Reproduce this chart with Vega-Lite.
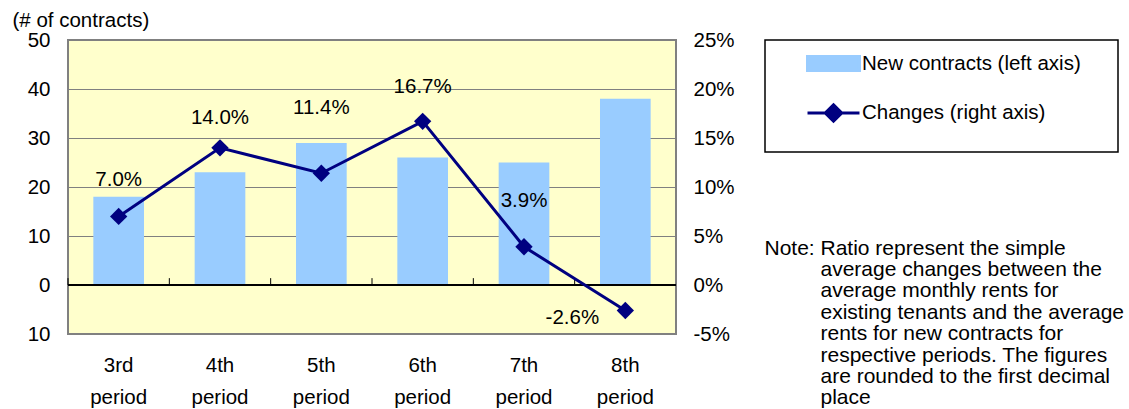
{
  "$schema": "https://vega.github.io/schema/vega-lite/v6.json",
  "width": 608,
  "height": 294,
  "autosize": {"type": "none"},
  "padding": {"left": 68, "top": 40, "right": 453, "bottom": 75},
  "background": "white",
  "config": {
    "font": "Liberation Sans",
    "view": {"fill": "#FFFFCC", "stroke": "#808080", "strokeWidth": 2},
    "axis": {"labelFont": "Liberation Sans", "labelColor": "black", "titleFont": "Liberation Sans", "titleColor": "black", "titleFontWeight": "normal"},
    "text": {"font": "Liberation Sans"}
  },
  "title": {"text": "the new contracts", "anchor": "start", "frame": "group", "fontSize": 26.5, "fontWeight": "bold", "font": "Liberation Sans", "color": "black", "baseline": "alphabetic", "offset": 34, "dx": -31},
  "data": {"values": [
    {"period": "3rd period", "contracts": 18, "change": 7.0},
    {"period": "4th period", "contracts": 23, "change": 14.0},
    {"period": "5th period", "contracts": 29, "change": 11.4},
    {"period": "6th period", "contracts": 26, "change": 16.7},
    {"period": "7th period", "contracts": 25, "change": 3.9},
    {"period": "8th period", "contracts": 38, "change": -2.6}
  ]},
  "transform": [
    {"calculate": "(datum.change < 0 ? '-' : '') + format(abs(datum.change), '.1f') + '%'", "as": "label"}
  ],
  "layer": [
    {
      "layer": [
        {
          "mark": {"type": "bar"},
          "encoding": {
            "x": {"field": "period", "type": "nominal", "sort": null,
              "scale": {"paddingInner": 0.5, "paddingOuter": 0.25},
              "axis": {"domain": false, "ticks": false, "labelExpr": "split(datum.label, ' ')", "labelFontSize": 20.5, "labelLineHeight": 32, "labelPadding": 21, "labelAngle": 0,
                "title": "Note:", "titleX": 696, "titleY": -80, "titleAlign": "left", "titleBaseline": "alphabetic", "titleFontSize": 21, "titleAngle": 0}},
            "y": {"field": "contracts", "type": "quantitative",
              "scale": {"domain": [-10, 50], "nice": false},
              "axis": {"values": [-10, 0, 10, 20, 30, 40, 50], "labelExpr": "'' + abs(datum.value)", "domain": false, "ticks": false, "tickSize": 0, "grid": true, "gridColor": "#808080", "gridWidth": 1, "labelPadding": 18, "labelFontSize": 20.5,
                "title": "(# of contracts)", "titleX": -56, "titleY": -20, "titleAngle": 0, "titleAlign": "left", "titleBaseline": "middle", "titleFontSize": 20.5}},
            "color": {"datum": "New contracts (left axis)",
              "scale": {"domain": ["New contracts (left axis)", "Changes (right axis)"], "range": ["#99CCFF", "#000080"]},
              "legend": {"orient": "none", "legendX": 697, "legendY": 0, "direction": "vertical",
                "title": "\u200b\u00a0\u00a0\u00a0\u00a0\u00a0\u00a0\u00a0\u00a0\u00a0\u00a0\u00a0\u00a0\u00a0\u00a0\u00a0\u00a0\u00a0\u00a0\u00a0\u00a0\u00a0\u00a0\u00a0\u00a0\u00a0\u00a0\u00a0\u00a0\u00a0\u00a0\u00a0\u00a0\u00a0\u00a0\u00a0\u00a0\u00a0\u00a0\u00a0\u00a0\u00a0\u00a0\u00a0\u00a0\u00a0\u00a0\u00a0\u00a0\u00a0\u00a0\u00a0\u00a0\u00a0\u00a0\u00a0\u00a0\u00a0\u00a0\u00a0\u00a0\u00a0\u200b",
                "titleOrient": "bottom", "titleFontSize": 20, "titlePadding": -2, "titleLimit": 1000,
                "strokeColor": "black", "fillColor": "white", "padding": 7, "symbolOffset": 45, "labelFontSize": 20.5, "labelOffset": 12, "labelLimit": 400, "rowPadding": 19.5, "symbolSize": 900, "labelColor": "black", "labelFont": "Liberation Sans",
                "encode": {
                  "legend": {"update": {"strokeWidth": {"value": 1.5}}},
                  "symbols": {"update": {
                  "shape": {"signal": "datum.label == 'Changes (right axis)' ? 'M-1.733,0L1.733,0M0,-0.55L0.55,0L0,0.55L-0.55,0Z' : 'M-1.733,-0.467L1.733,-0.467L1.733,0.467L-1.733,0.467Z'"},
                  "fill": {"signal": "datum.label == 'Changes (right axis)' ? '#000080' : '#CCECFF'"},
                  "stroke": {"signal": "datum.label == 'Changes (right axis)' ? '#000080' : 'transparent'"},
                  "strokeWidth": {"value": 3},
                  "size": {"value": 900},
                  "opacity": {"value": 1}
                }}}}}
          }
        },
        {
          "mark": {"type": "rule", "color": "black", "strokeWidth": 1},
          "encoding": {
            "x": {"field": "period", "type": "nominal", "sort": null, "bandPosition": -0.5},
            "y": {"datum": 0},
            "y2": {"datum": 1.4}
          }
        },
        {
          "mark": {"type": "rule", "color": "black", "strokeWidth": 1.5},
          "encoding": {"y": {"datum": 0}}
        }
      ]
    },
    {
      "layer": [
        {
          "mark": {"type": "line", "strokeWidth": 3},
          "encoding": {
            "x": {"field": "period", "type": "nominal", "sort": null},
            "y": {"field": "change", "type": "quantitative",
              "scale": {"domain": [-5, 25], "nice": false},
              "axis": {"orient": "right", "values": [-5, 0, 5, 10, 15, 20, 25], "labelExpr": "(datum.value < 0 ? '-' : '') + abs(datum.value) + '%'", "domain": false, "ticks": false, "tickSize": 0, "grid": false, "labelPadding": 17, "labelFontSize": 20.5, "labelAlign": "left",
                "title": ["Ratio represent the simple", "average changes between the", "average monthly rents for", "existing tenants and the average", "rents for new contracts for", "respective periods. The figures", "are rounded to the first decimal", "place"],
                "titleX": 144, "titleY": 214, "titleAngle": 0, "titleAlign": "left", "titleBaseline": "alphabetic", "titleFontSize": 21, "titleLineHeight": 21.4}},
            "color": {"datum": "Changes (right axis)"}
          }
        },
        {
          "mark": {"type": "point", "shape": "diamond", "filled": true, "size": 300, "color": "#000080", "opacity": 1},
          "encoding": {
            "x": {"field": "period", "type": "nominal", "sort": null},
            "y": {"field": "change", "type": "quantitative"}
          }
        },
        {
          "transform": [{"filter": "datum.period == '3rd period'"}],
          "mark": {"type": "text", "fontSize": 20.5, "color": "black", "baseline": "middle", "align": "center", "dy": -36},
          "encoding": {"x": {"field": "period", "type": "nominal", "sort": null}, "y": {"field": "change", "type": "quantitative"}, "text": {"field": "label"}}
        },
        {
          "transform": [{"filter": "datum.period == '4th period'"}],
          "mark": {"type": "text", "fontSize": 20.5, "color": "black", "baseline": "middle", "align": "center", "dy": -30},
          "encoding": {"x": {"field": "period", "type": "nominal", "sort": null}, "y": {"field": "change", "type": "quantitative"}, "text": {"field": "label"}}
        },
        {
          "transform": [{"filter": "datum.period == '5th period'"}],
          "mark": {"type": "text", "fontSize": 20.5, "color": "black", "baseline": "middle", "align": "center", "dy": -65},
          "encoding": {"x": {"field": "period", "type": "nominal", "sort": null}, "y": {"field": "change", "type": "quantitative"}, "text": {"field": "label"}}
        },
        {
          "transform": [{"filter": "datum.period == '6th period'"}],
          "mark": {"type": "text", "fontSize": 20.5, "color": "black", "baseline": "middle", "align": "center", "dy": -34},
          "encoding": {"x": {"field": "period", "type": "nominal", "sort": null}, "y": {"field": "change", "type": "quantitative"}, "text": {"field": "label"}}
        },
        {
          "transform": [{"filter": "datum.period == '7th period'"}],
          "mark": {"type": "text", "fontSize": 20.5, "color": "black", "baseline": "middle", "align": "center", "dy": -46},
          "encoding": {"x": {"field": "period", "type": "nominal", "sort": null}, "y": {"field": "change", "type": "quantitative"}, "text": {"field": "label"}}
        },
        {
          "transform": [{"filter": "datum.period == '8th period'"}],
          "mark": {"type": "text", "fontSize": 20.5, "color": "black", "baseline": "middle", "align": "center", "dx": -53, "dy": 8},
          "encoding": {"x": {"field": "period", "type": "nominal", "sort": null}, "y": {"field": "change", "type": "quantitative"}, "text": {"field": "label"}}
        }
      ]
    }
  ],
  "resolve": {"scale": {"y": "independent"}}
}
